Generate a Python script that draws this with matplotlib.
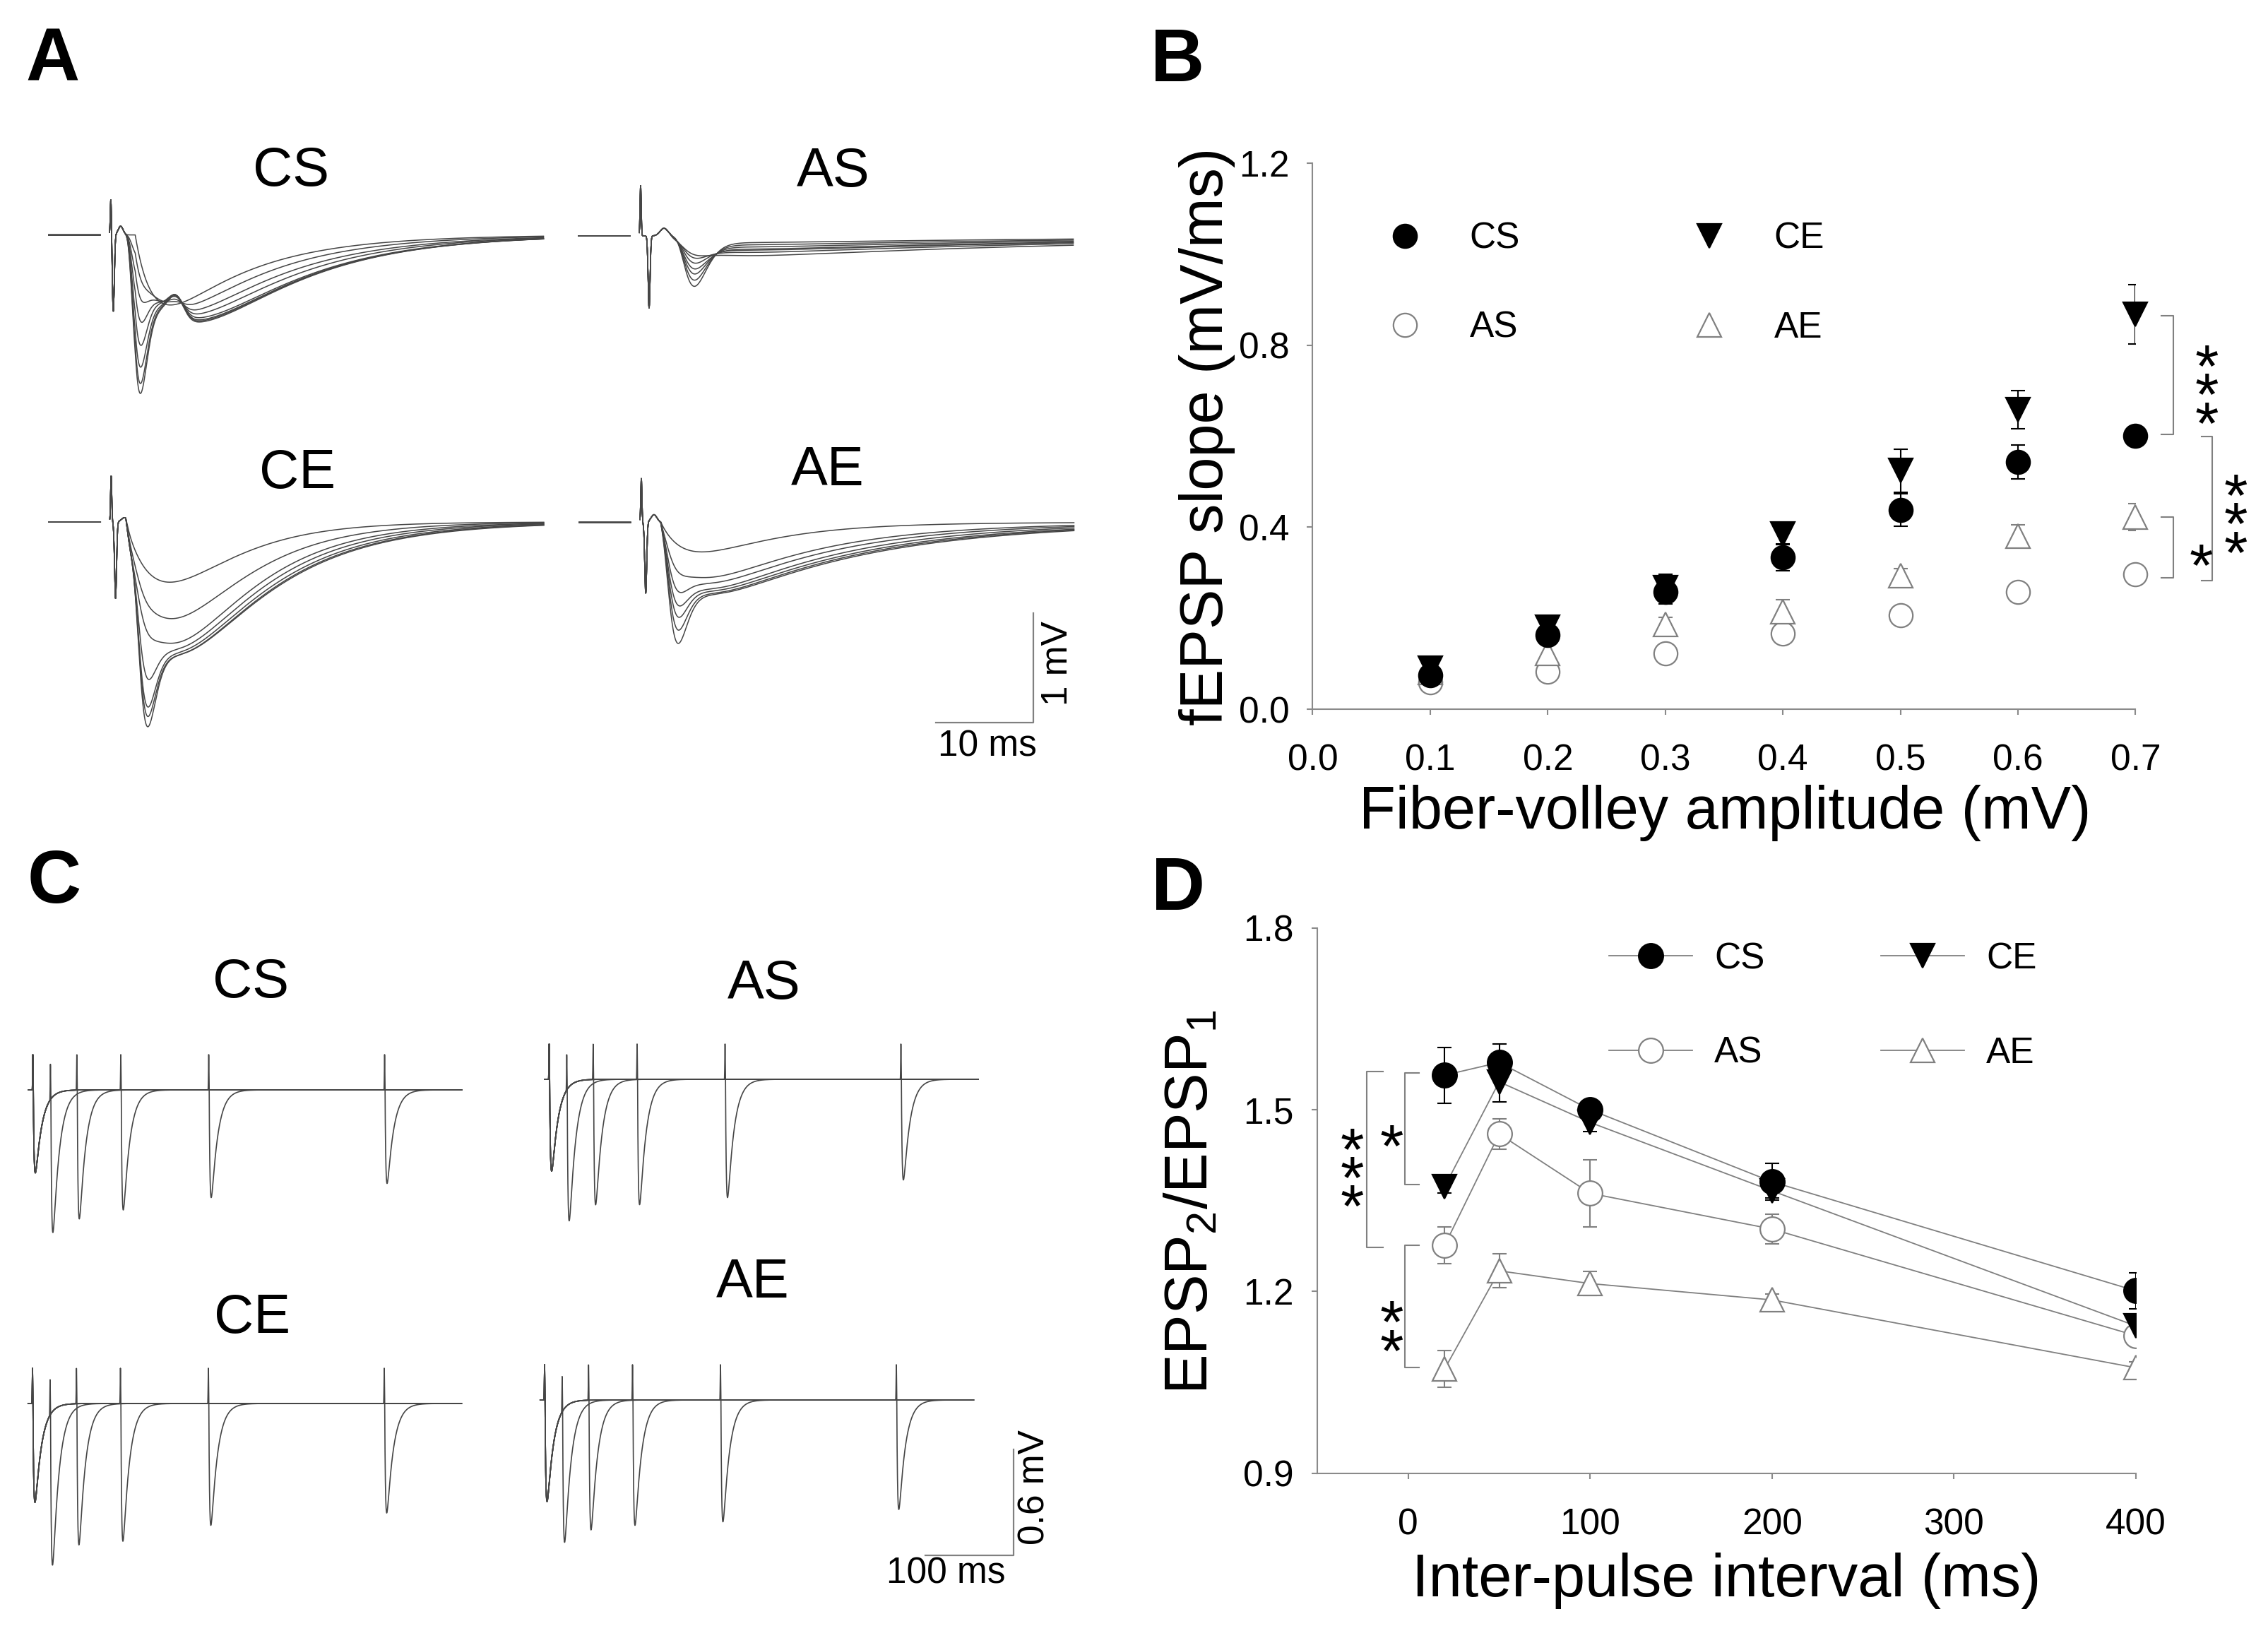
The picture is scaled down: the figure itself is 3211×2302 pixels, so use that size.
import numpy as np
import matplotlib
matplotlib.use('Agg')
import matplotlib.pyplot as plt
from matplotlib.transforms import offset_copy

plt.rcParams['font.family'] = ['Liberation Sans', 'DejaVu Sans']
plt.rcParams['mathtext.fontset'] = 'custom'
plt.rcParams['mathtext.rm'] = 'Liberation Sans'
plt.rcParams['mathtext.it'] = 'Liberation Sans:italic'
plt.rcParams['mathtext.bf'] = 'Liberation Sans:bold'
plt.rcParams['mathtext.default'] = 'regular'

# ======================= DATA =======================
# ---- Panel B: input-output (fEPSP slope vs fiber-volley amplitude) ----
fiber_volley = [0.1, 0.2, 0.3, 0.4, 0.5, 0.6, 0.7]
slope_cs = [0.075, 0.163, 0.257, 0.334, 0.438, 0.543, 0.601]
err_cs = [0.010, 0.020, 0.025, 0.030, 0.036, 0.037, 0.020]
slope_ce = [0.090, 0.180, 0.267, 0.385, 0.524, 0.658, 0.868]
err_ce = [0.010, 0.023, 0.030, 0.023, 0.048, 0.042, 0.065]
slope_as = [0.059, 0.083, 0.123, 0.166, 0.207, 0.257, 0.297]
err_as = [0.010, 0.010, 0.015, 0.018, 0.015, 0.015, 0.015]
slope_ae = [0.080, 0.123, 0.187, 0.214, 0.294, 0.380, 0.422]
err_ae = [0.010, 0.027, 0.015, 0.027, 0.015, 0.025, 0.030]

# ---- Panel D: paired-pulse ratio ----
ipi_ms = [20, 50, 100, 200, 400]
ppr_cs = [1.557, 1.578, 1.500, 1.381, 1.201]
ppr_cs_err = [0.046, 0.030, 0.012, 0.030, 0.030]
ppr_ce = [1.373, 1.546, 1.479, 1.366, 1.143]
ppr_ce_err = [0.010, 0.033, 0.015, 0.012, 0.010]
ppr_as = [1.276, 1.460, 1.362, 1.303, 1.127]
ppr_as_err = [0.030, 0.025, 0.055, 0.025, 0.015]
ppr_ae = [1.072, 1.234, 1.213, 1.186, 1.074]
ppr_ae_err = [0.030, 0.028, 0.020, 0.010, 0.010]

# ---- Panel A: fEPSP traces, per-trace component amplitudes (mV) and decays (ms) ----
a_cs_fast = [0.00, 0.20, 0.40, 0.62, 0.85, 1.05, 1.20, 1.29]
a_cs_slow = [0.64, 0.66, 0.70, 0.73, 0.76, 0.78, 0.79, 0.80]
a_cs_rise = [1.8, 2.5, 3.0, 3.5, 4.0, 4.0, 4.0, 4.0]
a_cs_decay = [9.0, 9.5, 10.0, 10.0, 10.0, 10.0, 10.0, 10.0]
a_cs_bump = [0.00, 0.05, 0.10, 0.14, 0.17, 0.19, 0.20, 0.20]

a_as_fast = [0.05, 0.10, 0.16, 0.22, 0.28, 0.35, 0.42]
a_as_slow = [0.18, 0.15, 0.13, 0.12, 0.10, 0.08, 0.06]
a_as_rise = [3.0] * 7
a_as_decay = [40.0] * 7
a_as_bump = [0.0] * 7

a_ce_fast = [0.00, 0.05, 0.15, 0.55, 0.80, 0.88, 0.98]
a_ce_slow = [0.55, 0.88, 1.10, 1.15, 1.18, 1.20, 1.20]
a_ce_rise = [3.5] * 7
a_ce_decay = [6.0, 7.0, 7.5, 8.0, 8.5, 8.8, 9.0]
a_ce_bump = [0.0] * 7

a_ae_fast = [0.00, 0.10, 0.25, 0.35, 0.45, 0.56, 0.68]
a_ae_slow = [0.27, 0.50, 0.55, 0.60, 0.62, 0.64, 0.65]
a_ae_rise = [2.5] * 7
a_ae_decay = [8.0, 12.0, 13.0, 14.0, 15.0, 15.5, 16.0]
a_ae_bump = [0.0] * 7

# group waveform timing: artifact up, artifact down, t down, FV amp, t FV, FV width,
# fast onset, fast time-to-peak, slow onset, bump time
a_time_cs = [0.35, -0.70, 0.25, 0.08, 1.00, 0.25, 1.3, 1.6, 2.5, 6.7]
a_time_as = [0.46, -0.66, 0.87, 0.07, 2.40, 0.40, 3.0, 2.5, 3.0, 6.7]
a_time_ce = [0.42, -0.70, 0.45, 0.04, 1.35, 0.30, 1.8, 1.8, 1.5, 6.7]
a_time_ae = [0.40, -0.65, 0.45, 0.07, 1.30, 0.30, 1.6, 2.0, 2.0, 6.7]

# ---- Panel C: paired-pulse traces, trough amplitudes (mV) ----
c_isi = [20, 50, 100, 200, 400]
c_cs_first, c_cs_second = 0.47, [0.77, 0.73, 0.68, 0.61, 0.53]
c_as_first, c_as_second = 0.52, [0.76, 0.71, 0.71, 0.67, 0.57]
c_ce_first, c_ce_second = 0.56, [0.87, 0.80, 0.78, 0.69, 0.62]
c_ae_first, c_ae_second = 0.575, [0.76, 0.735, 0.71, 0.69, 0.62]

# ======================= STYLE / LAYOUT =======================
W, H = 3212, 2302
GRAY = '#808080'
AXGRAY = '#8a8a8a'
TRACE = '#454545'
TICK_FS = 37
LABEL_FS = 61
TITLE_FS = 56
LETTER_FS = 76
STAR_FS = 62

fig = plt.figure(figsize=(W / 100, H / 100), dpi=100)


def px_axes(left, top, w, h):
    return fig.add_axes([left / W, 1 - (top + h) / H, w / W, h / H])


def ctext(x_px, y_px, s, size, weight='normal'):
    em = size / 72 * 100
    fig.text(x_px / W, 1 - (y_px + 0.358 * em) / H, s, fontsize=size,
             fontweight=weight, ha='center', va='baseline')


def gauss(t, mu, s):
    return np.exp(-0.5 * ((t - mu) / s) ** 2)


def gamma_pulse(t, t0, tp, n=5):
    x = np.clip((t - t0) / tp, 0, None)
    return x ** n * np.exp(n * (1 - x))


def dexp(t, t0, tr, td):
    x = np.clip(t - t0, 0, None)
    xp = np.log(td / tr) * tr * td / (td - tr)
    yp = np.exp(-xp / td) - np.exp(-xp / tr)
    return (np.exp(-x / td) - np.exp(-x / tr)) / yp


def fepsp(t, fast, slow, rise, decay, bump, tm):
    aup, adn, tdn, fv, tfv, sfv, tf, tpf, ts, tb = tm
    return (aup * gauss(t, 0, 0.06) + adn * gauss(t, tdn, 0.1) + fv * gauss(t, tfv, sfv)
            - fast * gamma_pulse(t, tf, tpf) - slow * dexp(t, ts, rise, decay)
            + bump * gauss(t, tb, 0.8))


def paired(t, isi, a1, a2):
    return (0.2 * gauss(t, 0, 0.25) + 0.2 * gauss(t, isi, 0.25)
            - a1 * dexp(t, 0.5, 1.0, 7.5) - a2 * dexp(t, isi + 0.5, 1.0, 7.5))


# ---------------- Panel A ----------------
A_PXMS, A_PXMV = 13.77, 155.0
a_xlim, a_ylim = (-7, 45), (-2.0, 0.55)
t_a = np.arange(-6.4, 44.5, 0.02)
a_sets = [
    ('CS', (157.0, 332.6), (412, 235), a_cs_fast, a_cs_slow, a_cs_rise, a_cs_decay, a_cs_bump, a_time_cs),
    ('AS', (907.0, 334.0), (1180, 236), a_as_fast, a_as_slow, a_as_rise, a_as_decay, a_as_bump, a_time_as),
    ('CE', (157.4, 739.0), (421, 663), a_ce_fast, a_ce_slow, a_ce_rise, a_ce_decay, a_ce_bump, a_time_ce),
    ('AE', (908.0, 739.5), (1172, 659), a_ae_fast, a_ae_slow, a_ae_rise, a_ae_decay, a_ae_bump, a_time_ae),
]
a_axes = {}
for name, (xa, yb), tpos, fa, sl, ri, de, bu, tm in a_sets:
    ax = px_axes(xa + a_xlim[0] * A_PXMS, yb - a_ylim[1] * A_PXMV,
                 (a_xlim[1] - a_xlim[0]) * A_PXMS, (a_ylim[1] - a_ylim[0]) * A_PXMV)
    ax.set_xlim(a_xlim)
    ax.set_ylim(a_ylim)
    ax.axis('off')
    for f, s, r, d, b in zip(fa, sl, ri, de, bu):
        v = fepsp(t_a, f, s, r, d, b, tm)
        v[(t_a > -1.1) & (t_a < -0.15)] = np.nan
        ax.plot(t_a, v, color=TRACE, lw=1.1)
    ctext(tpos[0], tpos[1], name, TITLE_FS)
    a_axes[name] = ax

# scale bar for A (in AE trace axes units)
axs = a_axes['AE']
axs.plot([30.3, 40.3, 40.3], [-1.83, -1.83, -0.83], color=GRAY, lw=1.6, clip_on=False)
axs.text(35.6, -2.05, '10 ms', fontsize=TICK_FS, ha='center', va='center', clip_on=False)
axs.text(42.8, -1.29, '1 mV', fontsize=TICK_FS, ha='center', va='center', rotation=90, clip_on=False)

# ---------------- Panel C ----------------
C_PXMS, C_PXMV = 1.245, 250.0
c_xlim, c_ylim = (-8, 492), (-1.0, 0.3)
t_c = np.arange(-5, 488, 0.1)
c_sets = [
    ('CS', (46.5, 1543.0), (355, 1384), c_cs_first, c_cs_second),
    ('AS', (777.5, 1528.0), (1082, 1386), c_as_first, c_as_second),
    ('CE', (46.0, 1987.0), (357, 1859), c_ce_first, c_ce_second),
    ('AE', (771.0, 1982.0), (1066, 1809), c_ae_first, c_ae_second),
]
c_axes = {}
for name, (xp, yb), tpos, a1, a2s in c_sets:
    ax = px_axes(xp + c_xlim[0] * C_PXMS, yb - c_ylim[1] * C_PXMV,
                 (c_xlim[1] - c_xlim[0]) * C_PXMS, (c_ylim[1] - c_ylim[0]) * C_PXMV)
    ax.set_xlim(c_xlim)
    ax.set_ylim(c_ylim)
    ax.axis('off')
    for isi, a2 in zip(c_isi, a2s):
        ax.plot(t_c, paired(t_c, isi, a1, a2), color=TRACE, lw=1.2)
    ctext(tpos[0], tpos[1], name, TITLE_FS)
    c_axes[name] = ax

axs = c_axes['AE']
axs.plot([433.3, 533.3, 533.3], [-0.879, -0.879, -0.279], color=GRAY, lw=1.6, clip_on=False)
axs.text(456.2, -0.984, '100 ms', fontsize=TICK_FS, ha='center', va='center', clip_on=False)
axs.text(557.4, -0.496, '0.6 mV', fontsize=TICK_FS, ha='center', va='center', rotation=90, clip_on=False)


# ---------------- axes styling ----------------
def style_axes(ax):
    for s in ['top', 'right']:
        ax.spines[s].set_visible(False)
    for s in ['left', 'bottom']:
        ax.spines[s].set_color(AXGRAY)
        ax.spines[s].set_linewidth(1.5)
    ax.tick_params(axis='both', which='major', direction='out', length=6, width=1.5,
                   color=AXGRAY, labelsize=TICK_FS, labelcolor='black')
    ax.tick_params(axis='x', pad=29)
    ax.tick_params(axis='y', pad=18)


def star_text(ax, x, y, s):
    # asterisks stacked vertically; shift so the glyphs (not the text box) centre on (x, y)
    em = STAR_FS / 72 * 100
    tr = offset_copy(ax.transData, fig=fig, x=0, y=-0.32 * em, units='dots')
    ax.text(x, y, '\n'.join(s), transform=tr, fontsize=STAR_FS, linespacing=0.36,
            ha='center', va='center', clip_on=False)


# ---------------- Panel B ----------------
axB = px_axes(1858.5, 231.0, 1165.0, 773.0)
style_axes(axB)
axB.set_xlim(0, 0.7)
axB.set_ylim(0, 1.2)
axB.set_xticks(np.round(np.arange(0, 0.71, 0.1), 1))
axB.set_xticklabels(['0.0', '0.1', '0.2', '0.3', '0.4', '0.5', '0.6', '0.7'])
axB.set_yticks([0.0, 0.4, 0.8, 1.2])
axB.set_yticklabels(['0.0', '0.4', '0.8', '1.2'])
b_series = [('AS', slope_as, err_as, 'o', 24, 'white', GRAY),
            ('AE', slope_ae, err_ae, '^', 25, 'white', GRAY),
            ('CS', slope_cs, err_cs, 'o', 24, 'black', 'black'),
            ('CE', slope_ce, err_ce, 'v', 25, 'black', 'black')]
hB = {}
for name, y, e, m, ms, fc, ec in b_series:
    axB.errorbar(fiber_volley, y, yerr=e, fmt='none', ecolor=ec, elinewidth=1.5,
                 capsize=7, capthick=1.5, zorder=2)
    h, = axB.plot(fiber_volley, y, linestyle='none', marker=m, ms=ms, mfc=fc, mec=ec,
                  mew=1.6, zorder=3, clip_on=False)
    hB[name] = h
axB.legend([hB['CS'], hB['AS'], hB['CE'], hB['AE']], ['CS', 'AS', 'CE', 'AE'], ncol=2,
           frameon=False, fontsize=TICK_FS, loc='center left', bbox_to_anchor=(0.055, 0.9355),
           bbox_transform=axB.transData, borderpad=0, borderaxespad=0, handlelength=1.5,
           handletextpad=1.04, columnspacing=4.46, labelspacing=1.5, numpoints=1)
axB.set_xlabel('Fiber-volley amplitude (mV)', fontsize=LABEL_FS)
axB.set_ylabel('fEPSP slope (mV/ms)', fontsize=LABEL_FS)
axB.xaxis.set_label_coords(0.501, -0.19)
axB.xaxis.label.set_va('center')
axB.yaxis.set_label_coords(-0.128, 0.5)
axB.yaxis.label.set_va('center')

sig_b = [(0.732, 0.722, 0.864, 0.604, 0.7605, 0.722, '***'),
         (0.765, 0.756, 0.599, 0.283, 0.7855, 0.438, '***'),
         (0.732, 0.722, 0.422, 0.289, 0.756, 0.347, '*')]
for xv, xt, yt, yb, sx, sy, s in sig_b:
    axB.plot([xt, xv, xv, xt], [yt, yt, yb, yb], color=GRAY, lw=1.5, clip_on=False)
    star_text(axB, sx, sy, s)

# ---------------- Panel D ----------------
axD = px_axes(1865.0, 1313.8, 1158.9, 771.8)
style_axes(axD)
axD.set_xlim(-50, 400)
axD.set_ylim(0.9, 1.8)
axD.set_xticks([0, 100, 200, 300, 400])
axD.set_yticks([0.9, 1.2, 1.5, 1.8])
axD.set_yticklabels(['0.9', '1.2', '1.5', '1.8'])
d_series = [('AE', ppr_ae, ppr_ae_err, '^', 25, 'white', GRAY),
            ('AS', ppr_as, ppr_as_err, 'o', 25, 'white', GRAY),
            ('CE', ppr_ce, ppr_ce_err, 'v', 25, 'black', 'black'),
            ('CS', ppr_cs, ppr_cs_err, 'o', 25, 'black', 'black')]
hD = {}
for name, y, e, m, ms, fc, ec in d_series:
    axD.errorbar(ipi_ms, y, yerr=e, fmt='none', ecolor=ec, elinewidth=1.5,
                 capsize=7, capthick=1.5, zorder=2)
    h, = axD.plot(ipi_ms, y, '-', color=GRAY, lw=1.3, marker=m, ms=ms, mfc=fc, mec=ec,
                  mew=1.6, zorder=3)
    hD[name] = h
axD.legend([hD['CS'], hD['AS'], hD['CE'], hD['AE']], ['CS', 'AS', 'CE', 'AE'], ncol=2,
           frameon=False, fontsize=TICK_FS, loc='center left', bbox_to_anchor=(110.4, 1.671),
           bbox_transform=axD.transData, borderpad=0, borderaxespad=0, handlelength=2.3,
           handletextpad=0.6, columnspacing=3.2, labelspacing=1.65, numpoints=1)
axD.set_xlabel('Inter-pulse interval (ms)', fontsize=LABEL_FS)
axD.set_ylabel('EPSP$_2$/EPSP$_1$', fontsize=LABEL_FS)
axD.xaxis.set_label_coords(0.4996, -0.198)
axD.xaxis.label.set_va('center')
axD.yaxis.set_label_coords(-0.153, 0.498)
axD.yaxis.label.set_va('center')

sig_d = [(-2.0, 6.0, 1.561, 1.377, -9.0, 1.463, '*'),
         (-23.0, -14.0, 1.563, 1.273, -31.0, 1.411, '***'),
         (-2.0, 6.0, 1.276, 1.075, -9.0, 1.149, '**')]
for xv, xt, yt, yb, sx, sy, s in sig_d:
    axD.plot([xt, xv, xv, xt], [yt, yt, yb, yb], color=GRAY, lw=1.5, clip_on=False)
    star_text(axD, sx, sy, s)

# ---------------- panel letters ----------------
for letter, (x, y) in zip('ABCD', [(75, 77), (1667, 77), (77, 1240), (1668, 1250)]):
    ctext(x, y, letter, LETTER_FS, weight='bold')

fig.savefig('out.png', dpi=100)
